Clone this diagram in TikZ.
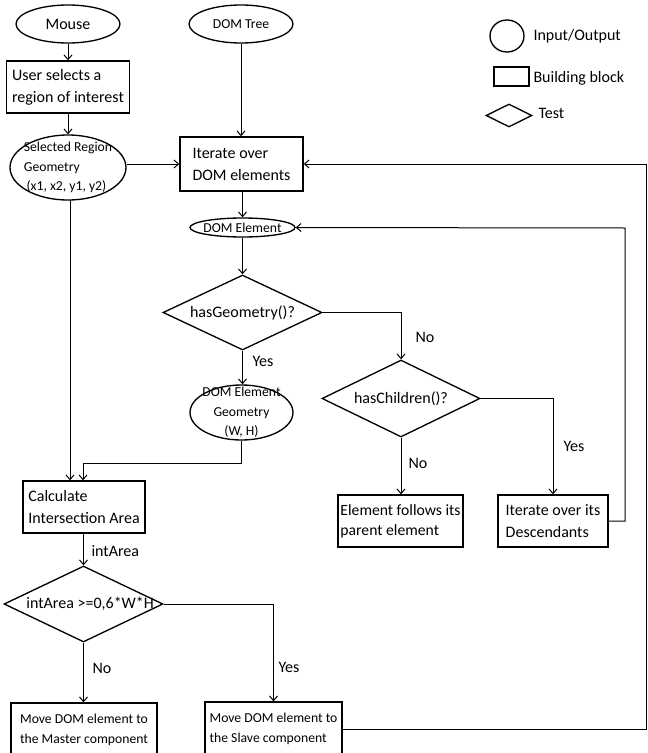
\documentclass[tikz,border=0pt]{standalone}
\usepackage{fontspec}
\setmainfont{Carlito}
\usetikzlibrary{shapes.geometric,arrows.meta}

\newcommand{\txtbig}{\fontsize{12}{16.5}\selectfont}
\newcommand{\txtsmall}{\fontsize{10.25}{14.5}\selectfont}

\tikzset{every picture/.style={line width=0.75pt}}
\tikzset{
  io/.style={draw, ellipse, line width=1pt, inner sep=0pt},
  block/.style={draw, rectangle, line width=1pt, inner xsep=3pt, inner ysep=0pt, align=left, font=\txtbig},
  test/.style={draw, diamond, aspect=2, line width=1pt, inner sep=0pt},
  flow/.style={-{Straight Barb[length=3.5pt,width=6pt]}, line width=0.75pt},
  lbl/.style={inner sep=0pt, font=\txtbig}
}

\begin{document}
\begin{tikzpicture}[x=0.75pt,y=0.75pt,yscale=-1,xscale=1]
\clip (0,0) rectangle (648,753);

%Shape: Ellipse [inputs]
\node[io, minimum width=78pt, minimum height=28.5pt, font=\txtbig] (mouse) at (68,24) {Mouse};
\node[io, minimum width=78pt, minimum height=28.5pt, font=\txtsmall] (domtree) at (241,24) {DOM Tree};
%Shape: Rectangle
\node[block, minimum width=92.25pt, minimum height=39pt] (user) at (68,87) {User selects a\\region of interest};
%Shape: Ellipse
\node[io, minimum width=87pt, minimum height=48.75pt, label={[lbl, font=\txtsmall, align=left]center:Selected Region\\Geometry\\\hspace{2pt}(x1, x2, y1, y2)}] (sel) at (68,167.5) {};
%Shape: Rectangle
\node[block, minimum width=92.25pt, minimum height=40.5pt] (iter) at (241.5,164) {Iterate over\\DOM elements\hspace{8pt}};
%Shape: Ellipse
\node[io, minimum width=78.75pt, minimum height=14.25pt, label={[lbl, font=\txtsmall]center:DOM Element}] (domel) at (242.5,227.5) {};
%Shape: Diamond
\node[test, minimum width=119.25pt, minimum height=56.25pt, font=\txtbig] (hasgeo) at (242.5,312.5) {hasGeometry()?};
%Shape: Ellipse
\node[io, minimum width=77.25pt, minimum height=41.25pt, label={[lbl, font=\txtsmall, align=center]center:DOM Element\\Geometry\\(W, H)}] (elgeo) at (241.5,412.5) {};
%Shape: Diamond
\node[test, minimum width=118.5pt, minimum height=57.75pt, font=\txtbig] (haschild) at (401,398.5) {hasChildren()?};
%Shape: Rectangle [leaves]
\node[block, minimum width=93.75pt, inner xsep=0.5pt, minimum height=39pt, font=\fontsize{11.75}{15}\selectfont] (follows) at (400.5,521) {Element follows its\\parent element};
\node[block, minimum width=82.5pt, minimum height=39pt] (desc) at (553,521) {Iterate over its\\Descendants};
%Shape: Rectangle
\node[block, minimum width=91.5pt, minimum height=39pt] (calc) at (84,507) {Calculate\\Intersection Area};
%Shape: Diamond
\node[test, minimum width=119.25pt, minimum height=57pt, label={[lbl, xshift=5pt]center:intArea >=0,6*W*H}] (intarea) at (83.5,604) {};
%Shape: Rectangle [outputs]
\node[block, minimum width=109.5pt, minimum height=40.5pt, align=center, font=\txtsmall] (master) at (84,730) {Move DOM element to\\the Master component};
\node[block, minimum width=102.75pt, inner xsep=1pt, minimum height=40.5pt, font=\txtsmall] (slave) at (273.5,729) {Move DOM element to\\the Slave component};

%Legend
\node[io, minimum width=25.5pt, minimum height=24pt] (lgio) at (507,36) {};
\node[lbl, anchor=west] (lgiotxt) at (533,36) {Input/Output};
\node[block, minimum width=26.25pt, minimum height=14.25pt] (lgblock) at (511.5,76.5) {};
\node[lbl, anchor=west] (lgblocktxt) at (533,78) {Building block};
\node[test, minimum width=34.5pt, minimum height=17.25pt] (lgtest) at (509,115.5) {};
\node[lbl, anchor=west] (lgtesttxt) at (538,113) {Test};

% Text Node [branch labels]
\node[lbl] (yesgeo) at (263,361) {Yes};
\node[lbl] (nogeo) at (425,337) {No};
\node[lbl] (nochild) at (418,463) {No};
\node[lbl] (yeschild) at (574,446) {Yes};
\node[lbl, anchor=west] (areatxt) at (91,551) {intArea};
\node[lbl] (noarea) at (102,668) {No};
\node[lbl] (yesarea) at (289,667) {Yes};

%Connectors
\coordinate (rt1) at (625,228);
\coordinate (rt2) at (646,164);
\coordinate (j1) at (83,463);
\coordinate (j2) at (70,200);
\draw[flow] (mouse.south) -- (mouse.south |- user.north);
\draw[flow] (user.south) -- (user.south |- sel.north);
\draw[flow] (domtree.south) -- (domtree.south |- iter.north);
\draw[flow] (sel.east |- iter.west) -- (iter.west);
\draw[flow] (iter.south -| domel.north) -- (domel.north);
\draw[flow] (domel.south) -- (hasgeo.north);
\draw[flow] (hasgeo.south) -- (hasgeo.south |- elgeo.north);
\draw[flow] (hasgeo.east) -| (haschild.north);
\draw[flow] (haschild.south) -- (haschild.south |- follows.north);
\draw[flow] (haschild.east) -| (desc.north);
\draw[flow] (desc.east) -| (rt1) -- (domel.east);
\draw[flow] (elgeo.south) |- (j1) -- (j1 |- calc.north);
\draw[flow] (j2) -- (j2 |- calc.north);
\draw[flow] (calc.south -| intarea.north) -- (intarea.north);
\draw[flow] (intarea.south) -- (intarea.south |- master.north);
\draw[flow] (intarea.east) -| (slave.north);
\draw[flow] (slave.east) -| (rt2) -- (iter.east);

\end{tikzpicture}
\end{document}
